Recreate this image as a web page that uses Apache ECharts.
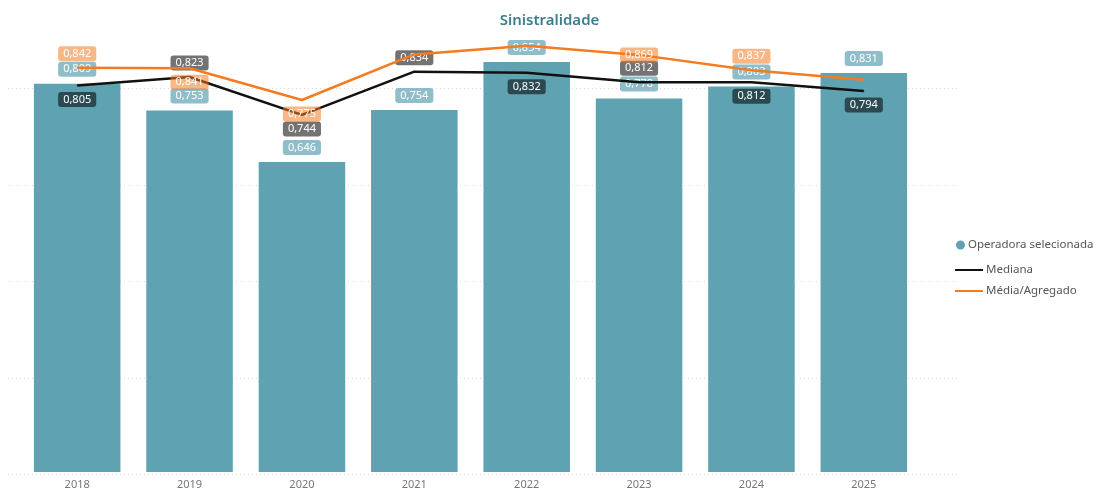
<!DOCTYPE html>
<html>
<head>
<meta charset="utf-8">
<script src="https://cdn.jsdelivr.net/npm/echarts@6/dist/echarts.min.js"></script>
<style>html,body{margin:0;padding:0;background:#fff}#c{width:1099px;height:490px}</style>
</head>
<body>
<div id="c"></div>
<script>
const categories = ['2018','2019','2020','2021','2022','2023','2024','2025'];
const operadora = [0.809, 0.753, 0.646, 0.754, 0.854, 0.778, 0.803, 0.831];
const mediana = [0.805, 0.823, 0.744, 0.834, 0.832, 0.812, 0.812, 0.794];
const mediaAgregado = [0.842, 0.841, 0.775, 0.870, 0.888, 0.869, 0.837, 0.817];

// label placement (style only)
const medianaLabelPos = ['bottom','top','bottom','top','bottom','top','bottom','bottom'];
const mediaLabelPos = ['top','bottom','bottom',null,null,'inside','top',null];

const fmt = v => v.toFixed(3).replace('.', ',');
const FONT = 'Noto Sans';

const chart = echarts.init(document.getElementById('c'), null, {renderer: 'canvas'});

function lineData(vals, pos, bg) {
  return vals.map((v, i) => ({
    value: v,
    label: pos[i] ? {
      show: true, position: pos[i], distance: 6,
      formatter: p => fmt(p.value), color: '#fff', fontSize: 11, fontFamily: FONT,
      backgroundColor: bg, padding: [2, 5], borderRadius: 3
    } : {show: false}
  }));
}

const yCommon = {type: 'value', min: 0, max: 0.9, interval: 0.2, axisLabel: {show: false},
  axisLine: {show: false}, axisTick: {show: false}};

chart.setOption({
  animation: false,
  title: {text: 'Sinistralidade', left: 'center', top: 8,
    textStyle: {color: '#3b7e8c', fontSize: 15, fontWeight: 600, fontFamily: FONT}},
  legend: [
    {orient: 'vertical', left: 951, top: 234, itemWidth: 9, itemHeight: 9, itemGap: 10,
      data: [{name: 'Operadora selecionada', icon: 'circle'}],
      textStyle: {color: '#555', fontSize: 11.5, fontFamily: FONT, padding: [0,0,0,-2]}},
    {orient: 'vertical', left: 950, top: 259, itemWidth: 28, itemHeight: 2, itemGap: 9,
      data: [{name: 'Mediana', icon: 'rect'}, {name: 'Média/Agregado', icon: 'rect'}],
      textStyle: {color: '#555', fontSize: 11.5, fontFamily: FONT, padding: [0,0,0,-2]}}
  ],
  grid: [
    {left: 21, right: 179, top: 40, bottom: 15.5},
    {left: 8, right: 142, top: 40, bottom: 15.5}
  ],
  xAxis: [
    {type: 'category', data: categories, gridIndex: 0,
      axisLine: {show: false}, axisTick: {show: false},
      axisLabel: {color: '#777', fontSize: 11, fontFamily: FONT, margin: 7}},
    {type: 'category', data: categories, gridIndex: 1, show: false}
  ],
  yAxis: [
    Object.assign({gridIndex: 0, splitLine: {show: false}}, yCommon),
    Object.assign({gridIndex: 1, splitLine: {show: true, showMaxLine: false,
      lineStyle: {color: '#d9d9d9', type: [1, 3], width: 1}}}, yCommon)
  ],
  series: [
    {name: 'Operadora selecionada', type: 'bar', data: operadora, barCategoryGap: '23%',
      itemStyle: {color: '#5fa3b3'},
      label: {show: true, position: 'top', distance: 7, formatter: p => fmt(p.value),
        color: '#fff', fontSize: 11, fontFamily: FONT,
        backgroundColor: 'rgba(95,163,179,0.7)', padding: [2, 5], borderRadius: 3}},
    {name: 'Mediana', type: 'line', symbol: 'circle', symbolSize: 1, showSymbol: true,
      lineStyle: {color: '#111', width: 2.5}, itemStyle: {color: '#111'},
      data: lineData(mediana, medianaLabelPos, 'rgba(0,0,0,0.55)'), z: 3},
    {name: 'Média/Agregado', type: 'line', symbol: 'circle', symbolSize: 1, showSymbol: true,
      lineStyle: {color: '#f47b20', width: 2.5}, itemStyle: {color: '#f47b20'},
      data: lineData(mediaAgregado, mediaLabelPos, 'rgba(244,123,32,0.55)'), z: 4}
  ]
});
</script>
</body>
</html>
